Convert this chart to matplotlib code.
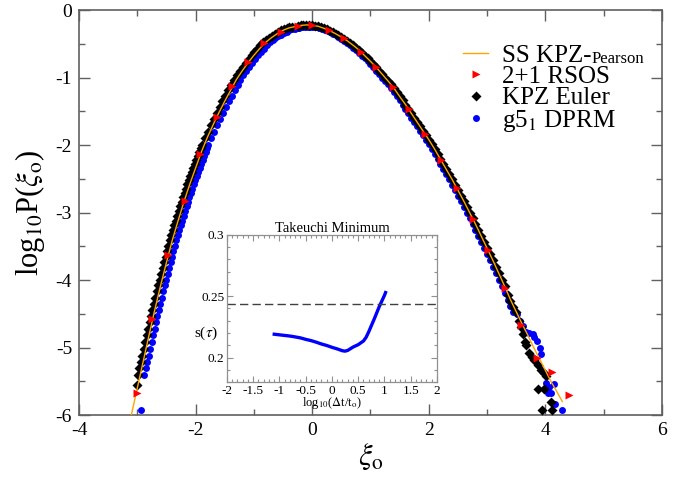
import matplotlib
matplotlib.use("Agg")
import matplotlib.pyplot as plt
from matplotlib.lines import Line2D
from matplotlib.ticker import MultipleLocator, FuncFormatter

plt.rcParams["font.family"] = ["Liberation Serif", "DejaVu Serif"]
plt.rcParams["mathtext.fontset"] = "stix"
plt.rcParams["axes.unicode_minus"] = False

# SS KPZ - Pearson curve
pearson_x = [-3.13, -3.10, -3.00, -2.90, -2.80, -2.70, -2.60, -2.50, -2.40, -2.30,
             -2.20, -2.10, -2.00, -1.90, -1.80, -1.70, -1.60, -1.50, -1.40, -1.30,
             -1.20, -1.10, -1.00, -0.90, -0.80, -0.70, -0.60, -0.50, -0.40, -0.30,
             -0.20, -0.10, 0.00, 0.10, 0.20, 0.30, 0.40, 0.50, 0.60, 0.70,
             0.80, 0.90, 1.00, 1.10, 1.20, 1.30, 1.40, 1.50, 1.60, 1.70,
             1.80, 1.90, 2.00, 2.10, 2.20, 2.30, 2.40, 2.50, 2.60, 2.70,
             2.80, 2.90, 3.00, 3.10, 3.20, 3.30, 3.40, 3.50, 3.60, 3.70,
             3.80, 3.90, 4.00, 4.10, 4.20, 4.29]
pearson_y = [-6.07, -5.99, -5.60, -5.21, -4.82, -4.44, -4.08, -3.74, -3.41, -3.12,
             -2.84, -2.58, -2.34, -2.10, -1.89, -1.70, -1.52, -1.35, -1.19, -1.03,
             -0.90, -0.78, -0.67, -0.57, -0.48, -0.41, -0.35, -0.30, -0.265, -0.245,
             -0.228, -0.22, -0.225, -0.24, -0.27, -0.305, -0.35, -0.40, -0.455, -0.52,
             -0.59, -0.675, -0.76, -0.85, -0.95, -1.05, -1.155, -1.28, -1.40, -1.53,
             -1.66, -1.79, -1.92, -2.06, -2.21, -2.36, -2.51, -2.67, -2.83, -3.00,
             -3.17, -3.35, -3.53, -3.71, -3.90, -4.09, -4.29, -4.47, -4.65, -4.82,
             -5.00, -5.17, -5.34, -5.51, -5.66, -5.80]

# 2+1 RSOS
rsos_x = [-3.00, -2.74, -2.47, -2.19, -1.92, -1.64, -1.37, -1.10, -0.82, -0.54,
          -0.25, 0.00, 0.29, 0.55, 0.835, 1.10, 1.39, 1.66, 1.93, 2.21,
          2.48, 2.75, 3.02, 3.31, 3.58, 3.85, 4.12, 4.41]
rsos_y = [-5.68, -4.58, -3.63, -2.83, -2.14, -1.58, -1.13, -0.77, -0.49, -0.32,
          -0.23, -0.22, -0.30, -0.42, -0.62, -0.85, -1.14, -1.47, -1.83, -2.22,
          -2.64, -3.09, -3.56, -4.12, -4.67, -5.15, -5.36, -5.70]

# KPZ Euler
euler_x = [-3.00, -2.99, -2.965, -2.94, -2.915, -2.89, -2.865, -2.84, -2.815, -2.79,
           -2.765, -2.74, -2.715, -2.69, -2.665, -2.64, -2.615, -2.59, -2.565, -2.54,
           -2.515, -2.49, -2.465, -2.44, -2.415, -2.39, -2.365, -2.34, -2.315, -2.29,
           -2.265, -2.24, -2.215, -2.19, -2.165, -2.14, -2.115, -2.09, -2.065, -2.04,
           -2.015, -1.99, -1.965, -1.94, -1.915, -1.89,
           -1.84, -1.79, -1.74, -1.69, -1.64, -1.59, -1.54, -1.49, -1.44, -1.39,
           -1.34, -1.29, -1.24, -1.19, -1.14, -1.09, -1.04, -0.99, -0.94, -0.89,
           -0.84, -0.79, -0.74, -0.69, -0.64, -0.59, -0.54, -0.49, -0.44, -0.39, -0.34,
           -0.25, -0.20, -0.15, -0.10, -0.05, 0.00, 0.05, 0.10, 0.15, 0.20,
           0.25, 0.30, 0.35, 0.40, 0.45, 0.50, 0.55, 0.60, 0.65, 0.70,
           0.75, 0.80, 0.85, 0.90, 0.95, 1.00, 1.05, 1.10, 1.15, 1.20,
           1.25, 1.30, 1.35, 1.40, 1.45, 1.50, 1.55, 1.60, 1.65, 1.70,
           1.75, 1.80, 1.85, 1.90, 1.95, 2.00, 2.05, 2.10, 2.15, 2.20,
           2.25, 2.30, 2.35, 2.40, 2.45, 2.50, 2.55, 2.60, 2.65, 2.70,
           2.75, 2.80, 2.85, 2.90, 2.95, 3.00, 3.05, 3.10, 3.15, 3.20,
           3.25, 3.30,
           3.35, 3.40, 3.45, 3.50, 3.55, 3.58, 3.61, 3.65, 3.67, 3.72,
           3.77, 3.81, 3.87, 3.92, 3.97, 4.01, 3.87, 3.98, 4.09, 3.95, 4.12]
euler_y = [-5.56, -5.41, -5.31, -5.21, -5.12, -5.02, -4.92, -4.82, -4.72, -4.62,
           -4.53, -4.44, -4.35, -4.26, -4.17, -4.08, -3.995, -3.91, -3.825, -3.74,
           -3.655, -3.57, -3.49, -3.41, -3.335, -3.26, -3.19, -3.12, -3.05, -2.98,
           -2.91, -2.84, -2.775, -2.71, -2.645, -2.58, -2.52, -2.46, -2.40, -2.34,
           -2.28, -2.22, -2.16, -2.10, -2.05, -2.00,
           -1.89, -1.80, -1.70, -1.61, -1.52, -1.43, -1.35, -1.27, -1.19, -1.11,
           -1.03, -0.96, -0.90, -0.84, -0.78, -0.72, -0.67, -0.62, -0.57, -0.52,
           -0.48, -0.44, -0.41, -0.38, -0.35, -0.32, -0.30, -0.28, -0.265, -0.255, -0.245,
           -0.235, -0.228, -0.223, -0.22, -0.221, -0.225, -0.232, -0.24, -0.255, -0.27,
           -0.285, -0.305, -0.33, -0.35, -0.375, -0.40, -0.43, -0.455, -0.49, -0.52,
           -0.555, -0.59, -0.63, -0.675, -0.715, -0.76, -0.805, -0.85, -0.90, -0.95,
           -1.00, -1.05, -1.10, -1.155, -1.22, -1.28, -1.34, -1.40, -1.465, -1.53,
           -1.595, -1.66, -1.725, -1.79, -1.855, -1.92, -1.99, -2.06, -2.135, -2.21,
           -2.285, -2.36, -2.435, -2.51, -2.59, -2.67, -2.75, -2.83, -2.915, -3.00,
           -3.085, -3.17, -3.26, -3.35, -3.44, -3.53, -3.62, -3.71, -3.805, -3.90,
           -3.995, -4.09,
           -4.22, -4.31, -4.40, -4.48, -4.60, -4.70, -4.80, -4.92, -4.97, -5.08,
           -5.14, -5.19, -5.26, -5.33, -5.38, -5.42, -5.62, -5.62, -5.80, -5.93, -5.93]

# g5_1 DPRM
dprm_x = [-2.93, -2.88, -2.855, -2.83, -2.805, -2.78, -2.755, -2.73, -2.705, -2.68,
          -2.655, -2.63, -2.605, -2.58, -2.555, -2.53, -2.505, -2.48, -2.455, -2.43,
          -2.405, -2.38, -2.355, -2.33, -2.305, -2.28, -2.255, -2.23, -2.205, -2.18,
          -2.155, -2.13, -2.105, -2.08, -2.055, -2.03, -2.005, -1.98, -1.955, -1.93,
          -1.905, -1.88, -1.855, -1.83, -1.805, -1.78,
          -1.73, -1.68, -1.63, -1.58, -1.53, -1.48, -1.43, -1.38, -1.33, -1.28,
          -1.23, -1.18, -1.13, -1.08, -1.03, -0.98, -0.93, -0.88, -0.83, -0.78,
          -0.73, -0.68, -0.63, -0.58,
          -0.54, -0.49, -0.44, -0.39, -0.34, -0.29, -0.24,
          -0.23, -0.18, -0.13, -0.08, -0.03, 0.02, 0.07, 0.12, 0.17, 0.22, 0.27, 0.32,
          0.30, 0.35, 0.40, 0.45, 0.50, 0.55, 0.60, 0.65, 0.70, 0.75,
          0.80, 0.85, 0.90, 0.95, 1.00, 1.05, 1.10, 1.15, 1.20, 1.25,
          1.30, 1.35, 1.40, 1.45, 1.50, 1.55, 1.60, 1.65, 1.70, 1.75,
          1.80, 1.85, 1.90, 1.95, 2.00, 2.05, 2.10, 2.15, 2.20, 2.25,
          2.30, 2.35, 2.40, 2.45, 2.50, 2.55, 2.60, 2.65, 2.70, 2.75,
          2.80, 2.85, 2.90, 2.95, 3.00, 3.05, 3.10, 3.15, 3.20, 3.25,
          3.30, 3.35, 3.40, 3.45,
          3.52, 3.57, 3.62, 3.67, 3.72, 3.78, 3.81, 3.85, 3.90, 3.93,
          4.01, 4.07, 4.04, 4.09, 4.15, 4.17, 4.29]
dprm_y = [-5.93, -5.41, -5.31, -5.21, -5.12, -5.02, -4.92, -4.82, -4.72, -4.62,
          -4.53, -4.44, -4.35, -4.26, -4.17, -4.08, -3.995, -3.91, -3.825, -3.74,
          -3.655, -3.57, -3.49, -3.41, -3.335, -3.26, -3.19, -3.12, -3.05, -2.98,
          -2.91, -2.84, -2.775, -2.71, -2.645, -2.58, -2.52, -2.46, -2.40, -2.34,
          -2.28, -2.22, -2.16, -2.10, -2.05, -2.00,
          -1.89, -1.80, -1.70, -1.61, -1.52, -1.43, -1.35, -1.27, -1.19, -1.11,
          -1.03, -0.96, -0.90, -0.84, -0.78, -0.72, -0.67, -0.62, -0.57, -0.52,
          -0.48, -0.44, -0.41, -0.38,
          -0.37, -0.34, -0.32, -0.30, -0.285, -0.275, -0.265,
          -0.26, -0.253, -0.248, -0.245, -0.246, -0.25, -0.257, -0.265, -0.28, -0.295, -0.31, -0.33,
          -0.33, -0.35, -0.375, -0.40, -0.43, -0.455, -0.49, -0.52, -0.555, -0.59,
          -0.63, -0.675, -0.715, -0.76, -0.805, -0.85, -0.90, -0.95, -1.00, -1.05,
          -1.10, -1.155, -1.22, -1.28, -1.34, -1.40, -1.465, -1.53, -1.595, -1.66,
          -1.725, -1.79, -1.855, -1.92, -1.99, -2.06, -2.135, -2.21, -2.285, -2.36,
          -2.435, -2.51, -2.59, -2.67, -2.75, -2.83, -2.915, -3.00, -3.085, -3.17,
          -3.26, -3.35, -3.44, -3.53, -3.62, -3.71, -3.805, -3.90, -3.995, -4.09,
          -4.19, -4.29, -4.38, -4.47,
          -4.50, -4.60, -4.68, -4.77, -4.78, -4.80, -4.85, -4.91, -5.00, -5.10,
          -5.53, -5.58, -5.68, -5.68, -5.54, -5.83, -5.93]

# inset: Takeuchi minimum
tak_x = [-1.10, -1.00, -0.90, -0.80, -0.70, -0.60, -0.50, -0.40, -0.30, -0.20,
         -0.10, 0.00, 0.10, 0.20, 0.25, 0.30, 0.40, 0.50, 0.60, 0.65,
         0.70, 0.80, 0.90, 1.00, 1.02]
tak_s = [0.219, 0.2185, 0.218, 0.2175, 0.2168, 0.216, 0.2148, 0.2138, 0.2125, 0.211,
         0.2098, 0.2083, 0.207, 0.2055, 0.2052, 0.2058, 0.2085, 0.2105, 0.2135, 0.2165,
         0.221, 0.231, 0.2415, 0.2508, 0.253]
tak_ref = 0.2435

fig = plt.figure(figsize=(6.87, 4.79), dpi=100)
ax = fig.add_axes([0.115, 0.1336, 0.8486, 0.8454])

spine_col = "#606060"

ax.plot(dprm_x, dprm_y, "o", color="#0000ff", ms=5, mec="none", zorder=2)
ax.plot(euler_x, euler_y, "D", color="black", ms=4.8, mec="none", zorder=3)
ax.plot(pearson_x, pearson_y, "-", color="#ffa500", lw=1.0, zorder=4)
ax.plot(rsos_x, rsos_y, ">", color="#ff0000", ms=5.5, mec="none", zorder=5)

ax.set_xlim(-4, 6)
ax.set_ylim(-6, 0)
ax.xaxis.set_major_locator(MultipleLocator(2))
ax.xaxis.set_minor_locator(MultipleLocator(1))
ax.yaxis.set_major_locator(MultipleLocator(1))
ax.yaxis.set_minor_locator(MultipleLocator(0.5))
ax.tick_params(which="both", direction="in", top=True, right=True,
               color=spine_col, width=1.0, labelsize=14)
ax.tick_params(which="major", length=8, pad=5)
ax.tick_params(which="minor", length=4.5)
for sp in ax.spines.values():
    sp.set_color(spine_col)
    sp.set_linewidth(1.2)

ax.set_xlabel(r"$\xi_\mathrm{o}$", fontsize=22, labelpad=2)
ax.set_ylabel(r"log$_{10}$P($\xi_\mathrm{o}$)", fontsize=22, labelpad=6)

handles = [
    Line2D([], [], color="#ffa500", lw=1.0),
    Line2D([], [], ls="none", marker=">", color="#ff0000", ms=5.5, mec="none"),
    Line2D([], [], ls="none", marker="D", color="black", ms=4.8, mec="none"),
    Line2D([], [], ls="none", marker="o", color="#0000ff", ms=5, mec="none"),
]
labels = ["SS KPZ-", "2+1 RSOS", "KPZ Euler", r"g5$_1$ DPRM"]
leg = ax.legend(handles, labels, loc="upper left", bbox_to_anchor=(0.659, 0.915),
                frameon=False, fontsize=18, handlelength=1.0, handletextpad=0.55,
                labelspacing=-0.05, borderpad=0.0, borderaxespad=0.0)

# inset
ax_in = fig.add_axes([0.3304, 0.2025, 0.3057, 0.3069])
ax_in.plot(tak_x, tak_s, "-", color="#0000ff", lw=2.4)
ax_in.axhline(tak_ref, color="#404040", lw=1.0, ls=(0, (6, 3)))
ax_in.set_xlim(-2, 2)
ax_in.set_ylim(0.18, 0.30)
ax_in.xaxis.set_major_locator(MultipleLocator(0.5))
ax_in.xaxis.set_minor_locator(MultipleLocator(0.1))
ax_in.yaxis.set_major_locator(MultipleLocator(0.05))
ax_in.yaxis.set_minor_locator(MultipleLocator(0.01))
fmt = FuncFormatter(lambda v, p: f"{v:g}")
ax_in.xaxis.set_major_formatter(fmt)
ax_in.yaxis.set_major_formatter(fmt)
ax_in.tick_params(which="both", direction="in", top=True, right=True,
                  color="#909090", width=0.8, labelsize=9.5, pad=2)
ax_in.tick_params(which="major", length=4)
ax_in.tick_params(which="minor", length=2)
for sp in ax_in.spines.values():
    sp.set_color("#909090")
    sp.set_linewidth(0.9)
ax_in.set_title("Takeuchi Minimum", fontsize=10.5, pad=2)
ax_in.set_xlabel(r"log$_{10}$($\Delta$t/t$_\mathrm{o}$)", fontsize=9, labelpad=-1)
ax_in.set_ylabel(r"s($\tau$)", fontsize=11, rotation=0, va="center")
ax_in.yaxis.set_label_coords(-0.1, 0.33)

# small "Pearson" after the first legend label
fig.canvas.draw()
bb = leg.get_texts()[0].get_window_extent()
fig.text(bb.x1 / fig.bbox.width, bb.y0 / fig.bbox.height, "Pearson",
         fontsize=12, va="bottom", ha="left")

fig.savefig("out.png", dpi=100)
